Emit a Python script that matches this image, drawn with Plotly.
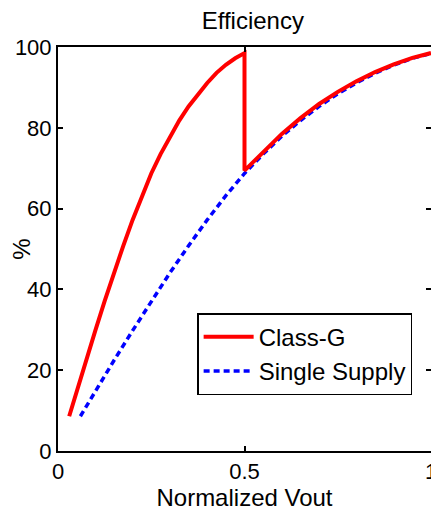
import plotly.graph_objects as go

# Single supply efficiency
single_x = [0.06, 0.10, 0.15, 0.20, 0.25, 0.30, 0.35, 0.40, 0.45, 0.50,
            0.55, 0.60, 0.65, 0.70, 0.75, 0.80, 0.85, 0.90, 0.95, 1.00]
single_y = [8.6, 14.8, 22.4, 29.8, 37.1, 44.1, 50.8, 57.2, 63.2, 68.7,
            73.5, 77.9, 81.8, 85.3, 88.4, 91.1, 93.5, 95.5, 97.2, 98.4]

# Class-G efficiency
classg_x = [0.03, 0.05, 0.075, 0.10, 0.125, 0.15, 0.175, 0.20, 0.225, 0.25,
            0.275, 0.30, 0.325, 0.35, 0.375, 0.40, 0.425, 0.45, 0.475, 0.50,
            0.50, 0.55, 0.60, 0.65, 0.70, 0.75, 0.80, 0.85, 0.90, 0.95, 1.00]
classg_y = [8.6, 14.8, 22.4, 29.8, 37.1, 44.1, 50.8, 57.2, 63.2, 68.7,
            73.5, 77.9, 81.8, 85.3, 88.4, 91.1, 93.6, 95.6, 97.2, 98.5,
            69.4, 74.1, 78.5, 82.4, 85.9, 88.9, 91.5, 93.8, 95.7, 97.3, 98.5]

x_ticks = [0, 0.5, 1]
x_tick_labels = ["0", "0.5", "1"]
y_ticks = [0, 20, 40, 60, 80, 100]
y_tick_labels = ["0", "20", "40", "60", "80", "100"]

FONT = "Liberation Sans, Arial, sans-serif"

fig = go.Figure()
fig.add_trace(go.Scatter(
    x=single_x, y=single_y, mode="lines", name="Single Supply",
    line=dict(color="#0000ff", width=3.5, dash="6px,4px"), legendrank=2))
fig.add_trace(go.Scatter(
    x=classg_x, y=classg_y, mode="lines", name="Class-G",
    line=dict(color="#ff0000", width=4), legendrank=1))

axis_common = dict(
    showline=True, linecolor="black", linewidth=2, mirror="ticks",
    ticks="inside", ticklen=5, tickwidth=1.5, tickcolor="black",
    showgrid=False, zeroline=False, automargin=False,
    tickfont=dict(family=FONT, size=22, color="black"),
)

fig.update_layout(
    width=431, height=510,
    margin=dict(l=50, r=8, t=39, b=67),
    paper_bgcolor="white", plot_bgcolor="white",
    font=dict(family=FONT, size=22, color="black"),
    title=dict(text="Efficiency", x=0.568, xanchor="center", y=0.975, yanchor="middle",
               font=dict(family=FONT, size=24, color="black")),
    xaxis=dict(range=[0, 1], tickvals=x_ticks, ticktext=x_tick_labels,
               title=dict(text="Normalized Vout", font=dict(family=FONT, size=24), standoff=4),
               **axis_common),
    yaxis=dict(range=[0, 100], tickvals=y_ticks, ticktext=y_tick_labels,
               title=dict(text="%", font=dict(family=FONT, size=24), standoff=4),
               **axis_common),
    legend=dict(x=0.373, y=0.341, xanchor="left", yanchor="top",
                bordercolor="black", borderwidth=1.5, bgcolor="white",
                itemwidth=50,
                font=dict(family=FONT, size=24, color="black")),
    showlegend=True,
)

fig.write_html("out.html")
